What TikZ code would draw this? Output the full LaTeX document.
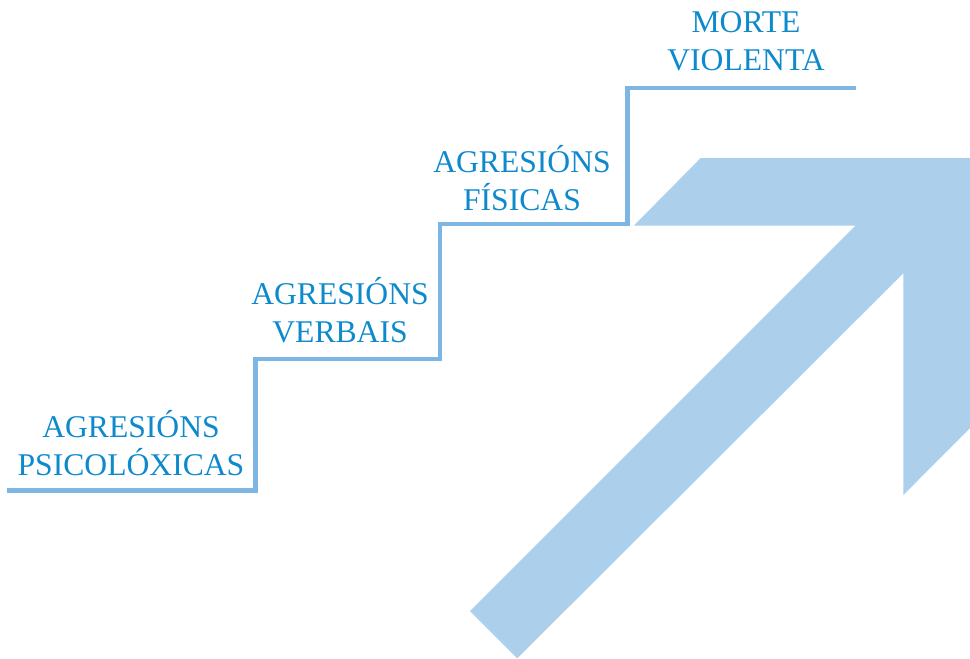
\documentclass[tikz,border=0pt]{standalone}
\usepackage{fontspec}
\setmainfont{Liberation Serif}
\usetikzlibrary{calc}

\definecolor{textblue}{RGB}{14,138,204}
\definecolor{stairblue}{RGB}{125,182,226}
\definecolor{arrowblue}{RGB}{172,208,236}

\tikzset{
  stairlabel/.style={text=textblue,align=center,anchor=base,inner sep=0pt,
    font=\fontsize{18}{21.6}\selectfont},
  stairline/.style={draw=stairblue,line width=5pt*0.02/0.0352778},
}

\begin{document}
\begin{tikzpicture}[x=0.02cm,y=-0.02cm]
        \useasboundingbox (0,0) rectangle (970,659);
        % arrow behind the stairs
        \coordinate (s1) at (470,611);
        \coordinate (s2) at (517.3,658.3);
        \coordinate (h1) at (855.7,225.5);
        \coordinate (h2) at (634,225.5);
        \coordinate (h3) at (700.7,158);
        \coordinate (tip) at (970,158);
        \coordinate (h4) at (970,428);
        \coordinate (h5) at (903.3,495);
        \coordinate (h6) at (903.3,273.3);
        \fill[arrowblue] (s1) -- (h1) -- (h2) -- (h3) -- (tip) -- (h4) -- (h5) -- (h6) -- (s2) -- cycle;
        % stairs
        \coordinate (a) at (7,490.5);
        \coordinate (b) at (255.5,490.5);
        \coordinate (c) at (255.5,359);
        \coordinate (d) at (440,359);
        \coordinate (e) at (440,224);
        \coordinate (f) at (627.5,224);
        \coordinate (g) at (627.5,88);
        \coordinate (h) at (856,88);
        \draw[stairline] (a) -- (b) -- (c) -- (d) -- (e) -- (f) -- (g) -- (h);
        % labels, placed at the baseline of their last line
        \node[stairlabel] (psico) at (131,475) {AGRESIÓNS\\PSICOLÓXICAS};
        \node[stairlabel] (verbais) at (340,342) {AGRESIÓNS\\VERBAIS};
        \node[stairlabel] (fisicas) at (522,210) {AGRESIÓNS\\FÍSICAS};
        \node[stairlabel] (morte) at (746,70) {MORTE\\VIOLENTA};
      \end{tikzpicture}
\end{document}
